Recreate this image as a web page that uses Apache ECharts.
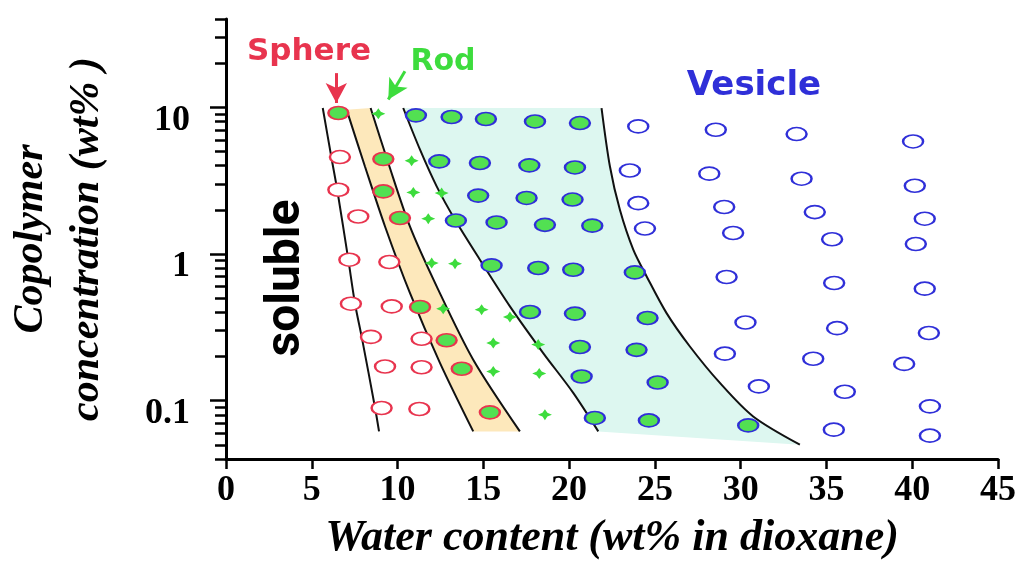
<!DOCTYPE html>
<html>
<head>
<meta charset="utf-8">
<title>Phase diagram</title>
<script src="https://cdn.jsdelivr.net/npm/echarts@6/dist/echarts.min.js"></script>
<style>
  html, body { margin: 0; padding: 0; background: #fff; }
  #chart { width: 1025px; height: 564px; }
</style>
</head>
<body>
<div id="chart"></div>
<script>
// axis ticks
const xTicks = [0, 5, 10, 15, 20, 25, 30, 35, 40, 45]
const yMajor = [0.1, 1, 10]
const yMinor = [0.04, 0.05, 0.06, 0.07, 0.08, 0.09, 0.2, 0.3, 0.4, 0.5, 0.6, 0.7, 0.8, 0.9,
  2, 3, 4, 5, 6, 7, 8, 9, 20, 30, 40]

// phase boundaries (water wt%, copolymer wt%)
const bound1 = [[5.64, 9.89], [6.16, 4.44], [6.49, 2.71], [7.13, 0.914], [7.52, 0.458], [7.91, 0.272],
  [8.69, 0.0891], [8.92, 0.0617]]
const bound2 = [[7.03, 9.64], [8.10, 3.95], [9.27, 1.54], [10.72, 0.542], [12.47, 0.181], [14.41, 0.0617]]
const bound3 = [[8.43, 9.89], [9.46, 4.17], [10.72, 1.54], [12.28, 0.601], [14.41, 0.190], [17.13, 0.0617]]
const bound4 = [[10.33, 9.89], [11.31, 5.14], [12.28, 2.89], [13.35, 1.71], [14.80, 0.914], [16.55, 0.439],
  [18.49, 0.211], [20.24, 0.113], [21.70, 0.0617]]
const bound5 = [[21.89, 9.89], [22.38, 3.95], [22.96, 2.00], [23.74, 1.07], [24.52, 0.703], [25.68, 0.395],
  [27.04, 0.234], [28.79, 0.132], [30.73, 0.0780], [33.45, 0.0501]]

// observed morphologies
const sphere = [[6.64, 4.58], [6.55, 2.74], [7.71, 1.80], [7.19, 0.914], [9.52, 0.881], [7.28, 0.458],
  [9.66, 0.439], [8.45, 0.272], [11.40, 0.264], [9.27, 0.171], [11.40, 0.169], [9.07, 0.0891], [11.27, 0.0877]]
const sphereRod = [[6.55, 9.14], [9.17, 4.44], [9.17, 2.67], [10.14, 1.76], [11.31, 0.435], [12.86, 0.258],
  [13.74, 0.165], [15.38, 0.0832]]
const rod = [[8.88, 9.04], [10.82, 4.32], [10.92, 2.63], [12.57, 2.60], [11.79, 1.74], [11.99, 0.867],
  [13.35, 0.859], [12.66, 0.423], [14.90, 0.417], [16.55, 0.372], [15.58, 0.247], [18.20, 0.241],
  [15.58, 0.158], [18.26, 0.153], [18.59, 0.0802]]
const vesicleRod = [[11.07, 8.81], [13.15, 8.59], [15.15, 8.32], [18.01, 8.01], [20.63, 7.81],
  [12.43, 4.28], [14.80, 4.17], [17.68, 4.02], [20.34, 3.89],
  [14.70, 2.50], [17.52, 2.41], [20.20, 2.35],
  [13.40, 1.69], [15.77, 1.64], [18.59, 1.58], [21.35, 1.56],
  [15.48, 0.836], [18.20, 0.802], [20.24, 0.781], [23.83, 0.749],
  [17.72, 0.402], [20.34, 0.392], [24.57, 0.366],
  [20.63, 0.232], [23.93, 0.222],
  [20.73, 0.146], [25.16, 0.133],
  [21.50, 0.0762], [24.65, 0.0733], [30.44, 0.0678]]
const vesicle = [[24.03, 7.41], [28.55, 7.03], [33.26, 6.57], [40.05, 5.85],
  [23.54, 3.71], [28.17, 3.53], [33.55, 3.26], [40.15, 2.92],
  [24.03, 2.22], [29.04, 2.09], [34.32, 1.93], [40.73, 1.74],
  [24.42, 1.49], [29.56, 1.39], [35.33, 1.26], [40.21, 1.17],
  [29.18, 0.697], [35.45, 0.634], [40.73, 0.580],
  [30.28, 0.341], [35.62, 0.312], [40.97, 0.289],
  [29.08, 0.209], [34.23, 0.193], [39.53, 0.178],
  [31.06, 0.125], [36.07, 0.115], [41.03, 0.0914],
  [35.43, 0.0634], [41.03, 0.0577]]

// pointer arrows for the labels
const sphereArrow = [[6.43, 17.1], [6.43, 10.7]]
const rodArrow = [[10.43, 17.6], [9.46, 11.3]]

const RED = '#e8344e'
const GREEN = '#3ddc3d'
const BLUE = '#2f2fd8'
const ellipse = 'path://M0,10A10,10,0,1,1,20,10A10,10,0,1,1,0,10Z'
const star = 'path://M10,0L13.5,6.5L20,10L13.5,13.5L10,20L6.5,13.5L0,10L6.5,6.5Z'
const serif = 'Liberation Serif'

// band between two boundaries, drawn through the axes
function band(left, right, color) {
  return {
    type: 'custom',
    silent: true,
    z: 1,
    data: [0],
    renderItem: function (params, api) {
      const pts = left.concat(right.slice().reverse()).map(p => api.coord(p))
      return { type: 'polygon', shape: { points: pts }, style: { fill: color } }
    }
  }
}

function boundary(pts) {
  return {
    type: 'line', data: pts, smooth: 0.3, showSymbol: false, silent: true, z: 3,
    lineStyle: { color: '#111', width: 2 }
  }
}

function marks(pts, symbol, size, fill, border) {
  return {
    type: 'scatter', data: pts, symbol: symbol, symbolSize: size, z: 5, silent: true,
    itemStyle: { color: fill, borderColor: border, borderWidth: border ? 2 : 0, opacity: 1 }
  }
}

function arrow(pts, color) {
  return {
    type: 'line', data: [], silent: true, z: 6,
    markLine: {
      silent: true, symbol: ['none', 'arrow'], symbolSize: [16, 20], label: { show: false },
      lineStyle: { color: color, width: 3, type: 'solid' },
      data: [[{ coord: pts[0] }, { coord: pts[1] }]]
    }
  }
}

const chart = echarts.init(document.getElementById('chart'))

const option = {
  animation: false,
  backgroundColor: '#fff',
  grid: { left: 226, right: 27, top: 19, bottom: 105, containLabel: false, outerBoundsMode: 'none' },
  xAxis: {
    type: 'value', min: 0, max: 45, interval: 5,
    name: 'Water content (wt% in dioxane)',
    nameLocation: 'middle', nameGap: 58,
    nameTextStyle: { fontFamily: serif, fontStyle: 'italic', fontWeight: 'bold', fontSize: 44, color: '#000' },
    axisLine: { lineStyle: { color: '#000', width: 3 } },
    axisTick: { length: 10, lineStyle: { color: '#000', width: 2.5 } },
    axisLabel: {
      margin: 14, color: '#000', fontFamily: serif, fontWeight: 'bold', fontSize: 36,
      formatter: v => xTicks.indexOf(v) >= 0 ? String(v) : ''
    },
    splitLine: { show: false }
  },
  yAxis: [{
    type: 'log', logBase: 10, min: 0.04, max: 40, position: 'left',
    name: 'Copolymer\nconcentration (wt% )',
    nameLocation: 'middle', nameRotate: 90, nameGap: 111,
    nameTextStyle: {
      fontFamily: serif, fontStyle: 'italic', fontWeight: 'bold', fontSize: 42, lineHeight: 56,
      color: '#000', align: 'center'
    },
    axisLine: { show: true, lineStyle: { color: '#000', width: 3 } },
    axisTick: { show: true, length: 16, customValues: yMajor, lineStyle: { color: '#000', width: 2.5 } },
    axisLabel: {
      customValues: yMajor, margin: 36, lineHeight: 26,
      color: '#000', fontFamily: serif, fontWeight: 'bold', fontSize: 36,
      formatter: v => '\n' + v
    },
    splitLine: { show: false }
  }, {
    type: 'log', logBase: 10, min: 0.04, max: 40, position: 'left',
    axisLine: { show: false },
    axisTick: { show: true, length: 11, customValues: yMinor, lineStyle: { color: '#000', width: 2.5 } },
    axisLabel: { show: false },
    splitLine: { show: false }
  }],
  graphic: [
    { type: 'text', x: 309, y: 52, z: 10, style: { text: 'Sphere', fill: RED, font: 'bold 31px "DejaVu Sans"', align: 'center', verticalAlign: 'middle' } },
    { type: 'text', x: 443, y: 62, z: 10, style: { text: 'Rod', fill: GREEN, font: 'bold 30px "DejaVu Sans"', align: 'center', verticalAlign: 'middle' } },
    { type: 'text', x: 754, y: 86, z: 10, style: { text: 'Vesicle', fill: BLUE, font: 'bold 34px "DejaVu Sans"', align: 'center', verticalAlign: 'middle' } },
    { type: 'text', x: 287, y: 278, rotation: Math.PI / 2, z: 10, style: { text: 'soluble', fill: '#000', font: 'bold 48px Roboto', align: 'center', verticalAlign: 'middle' } }
  ],
  series: [
    band(bound2, bound3, '#fde8bb'),
    band(bound4, bound5, '#ddf7f0'),
    boundary(bound1),
    boundary(bound2),
    boundary(bound3),
    boundary(bound4),
    boundary(bound5),
    marks(sphere, ellipse, [20, 13], '#fff', RED),
    marks(vesicle, ellipse, [20, 13], '#fff', BLUE),
    marks(sphereRod, ellipse, [20, 13], '#52e052', RED),
    marks(vesicleRod, ellipse, [20, 13], '#52e052', BLUE),
    marks(rod, star, [14, 11], GREEN, null),
    arrow(sphereArrow, RED),
    arrow(rodArrow, GREEN)
  ]
}

chart.setOption(option)
</script>
</body>
</html>
